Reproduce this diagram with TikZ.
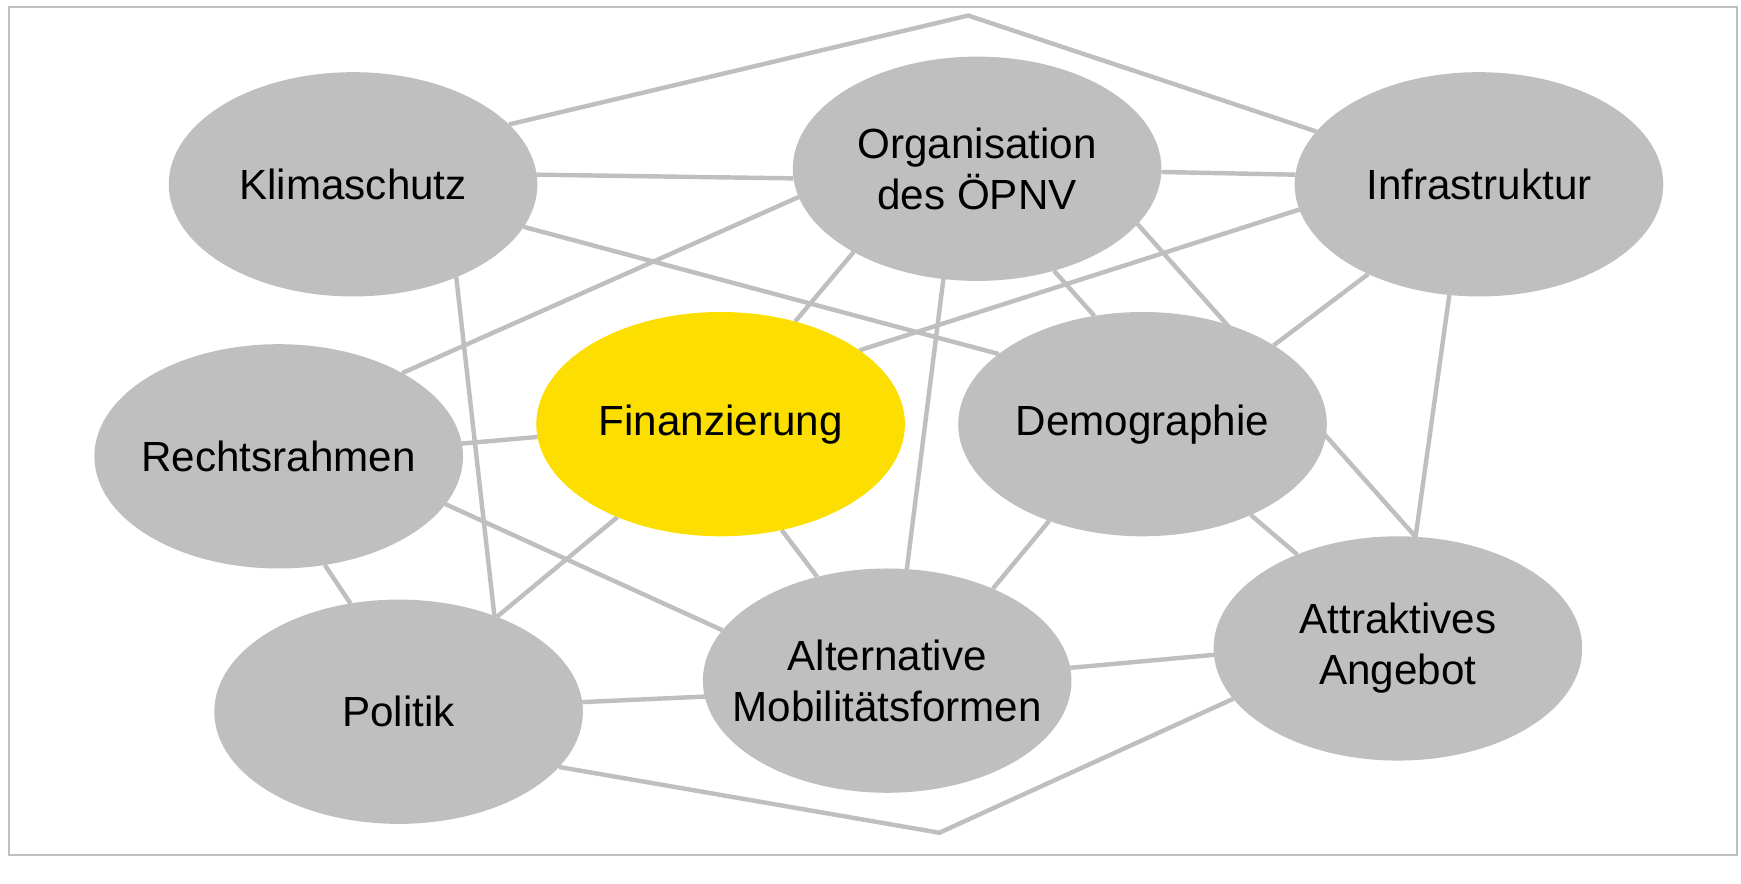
\documentclass[tikz,border=0pt]{standalone}
\usepackage{fontspec}
\setmainfont{Liberation Sans}
\usetikzlibrary{shapes.geometric, backgrounds, positioning}

\definecolor{topicgray}{HTML}{BFBFBF}
\definecolor{focusyellow}{HTML}{FCDF00}

\tikzset{
    topic/.style={ellipse, fill=topicgray, minimum width=166pt, minimum height=101pt, inner sep=0pt, outer sep=0pt},
    topictext/.style={font=\fontsize{19}{23}\selectfont, align=center, text=black},
    link/.style={draw=topicgray, line width=2pt},
}

\begin{document}
\begin{tikzpicture}[x=0.5pt, y=-0.5pt]
        \useasboundingbox (0,0) rectangle (1568,796);
        \draw[draw=topicgray, line width=0.9pt] (8,6) rectangle (1564,770);

        % topics
        \node[topic, label={[topictext]center:Klimaschutz}] (klima) at (318,166) {};
        \node[topic, label={[topictext]center:{Organisation\\des ÖPNV}}] (orga) at (880,152) {};
        \node[topic, label={[topictext]center:Infrastruktur}] (infra) at (1332,166) {};
        \node[topic, label={[topictext]center:Rechtsrahmen}] (recht) at (251,411) {};
        \node[topic, fill=focusyellow, label={[topictext]center:Finanzierung}] (finanz) at (649,382) {};
        \node[topic, label={[topictext]center:Demographie}] (demo) at (1029,382) {};
        \node[topic, label={[topictext]center:Politik}] (politik) at (359,641) {};
        \node[topic, label={[topictext]center:{Alternative\\Mobilitätsformen}}] (alter) at (799,613) {};
        \node[topic, label={[topictext]center:{Attraktives\\Angebot}}] (angebot) at (1259,584) {};

        % connections, behind the ellipses
        \begin{pgfonlayer}{background}
            \coordinate (topbend) at (872,14);
            \coordinate (bottombend) at (846,750);

            \draw[link] (klima.21) -- (topbend) -- (infra.162);
            \draw[link] (politik.-19) -- (bottombend) -- (angebot.197);

            \draw[link] (klima.3) -- (orga.183);
            \draw[link] (orga.-1) -- (infra.177);
            \draw[link] (klima.-14) -- (demo.154);
            \draw[link] (klima.-42) -- (politik.45);
            \draw[link] (orga.189) -- (recht.34);
            \draw[link] (orga.214) -- (finanz.54);
            \draw[link] (orga.-53) -- (demo.114);
            \draw[link] (orga.-19) -- (angebot.81);
            \draw[link] (orga.253) -- (alter.80);
            \draw[link] (infra.188) -- (finanz.28);
            \draw[link] (infra.219) -- (demo.31);
            \draw[link] (infra.255) -- (angebot.81);
            \draw[link] (recht.4) -- (finanz.184);
            \draw[link] (recht.-16) -- (alter.163);
            \draw[link] (recht.-67) -- (politik.114);
            \draw[link] (finanz.222) -- (politik.44);
            \draw[link] (finanz.-60) -- (alter.124);
            \draw[link] (demo.226) -- (alter.41);
            \draw[link] (demo.-40) -- (angebot.137);
            \draw[link] (alter.4) -- (angebot.182);
            \draw[link] (politik.3) -- (alter.185);
        \end{pgfonlayer}
\end{tikzpicture}
\end{document}
